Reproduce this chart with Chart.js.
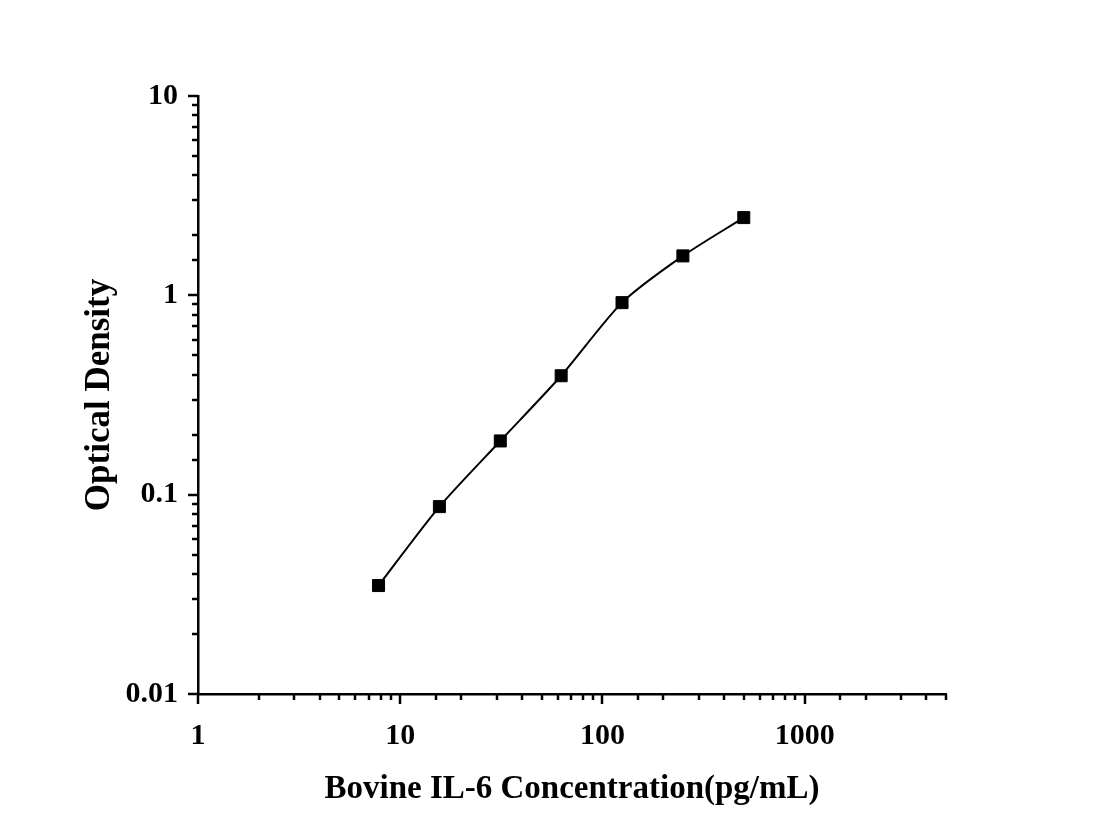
<!DOCTYPE html>
<html>
<head>
<meta charset="utf-8">
<script src="https://cdn.jsdelivr.net/npm/chart.js@4"></script>
<style>html,body{margin:0;padding:0;background:#fff}</style>
</head>
<body>
<canvas id="c" width="1100" height="836"></canvas>
<script>
// standard curve
const conc=[7.8125,15.625,31.25,62.5,125,250,500];
const od=[0.0350,0.0871,0.186,0.395,0.919,1.577,2.455];
const xRange=[1,5000], yRange=[0.01,10];
const xTitle="Bovine IL-6 Concentration(pg/mL)", yTitle="Optical Density";

const serif="'Liberation Serif','Times New Roman',serif";
const isDecade=v=>Math.abs(Math.log10(v)-Math.round(Math.log10(v)))<1e-6;
const decLabel=v=>isDecade(v)?String(Number(v.toPrecision(1))):"";

// outward tick marks: long on decades, short in between
const tickMarks={id:"tickMarks",afterDraw(ch){
  const c=ch.ctx;c.save();c.strokeStyle="#000";c.lineWidth=2.5;
  const xs=ch.scales.x,ys=ch.scales.y;
  xs.ticks.forEach(t=>{const p=Math.round(xs.getPixelForValue(t.value));const l=isDecade(t.value)?10:6;
    c.beginPath();c.moveTo(p,xs.top);c.lineTo(p,xs.top+l);c.stroke();});
  ys.ticks.forEach(t=>{const p=Math.round(ys.getPixelForValue(t.value));const l=isDecade(t.value)?10:6;
    c.beginPath();c.moveTo(ys.right,p);c.lineTo(ys.right-l,p);c.stroke();});
  c.restore();
}};

new Chart(document.getElementById("c"),{
  type:"line",
  data:{datasets:[{data:conc.map((x,i)=>({x,y:od[i]})),
    borderColor:"#000",borderWidth:2,tension:0.25,
    pointStyle:"rect",pointRadius:8.5,pointBackgroundColor:"#000",pointBorderColor:"#000",pointBorderWidth:1}]},
  options:{responsive:false,devicePixelRatio:1,animation:false,
    layout:{padding:{top:96,right:154,left:0,bottom:0}},
    plugins:{legend:{display:false},tooltip:{enabled:false}},
    scales:{
      x:{type:"logarithmic",min:xRange[0],max:xRange[1],
        afterFit:s=>{s.height=142;},
        grid:{display:false,drawTicks:false},border:{display:true,color:"#000",width:2.5},
        ticks:{autoSkip:false,maxRotation:0,padding:24,color:"#000",font:{family:serif,size:30,weight:"bold"},callback:decLabel},
        title:{display:true,text:xTitle,color:"#000",font:{family:serif,size:33,weight:"bold"},padding:{bottom:27}}},
      y:{type:"logarithmic",min:yRange[0],max:yRange[1],
        afterFit:s=>{s.width=198;},
        grid:{display:false,drawTicks:false},border:{display:true,color:"#000",width:2.5},
        ticks:{autoSkip:false,padding:20,color:"#000",font:{family:serif,size:30,weight:"bold"},callback:decLabel},
        title:{display:true,text:yTitle,color:"#000",font:{family:serif,size:35,weight:"bold"},padding:{top:79}}}
    }},
  plugins:[tickMarks]
});
</script>
</body>
</html>
